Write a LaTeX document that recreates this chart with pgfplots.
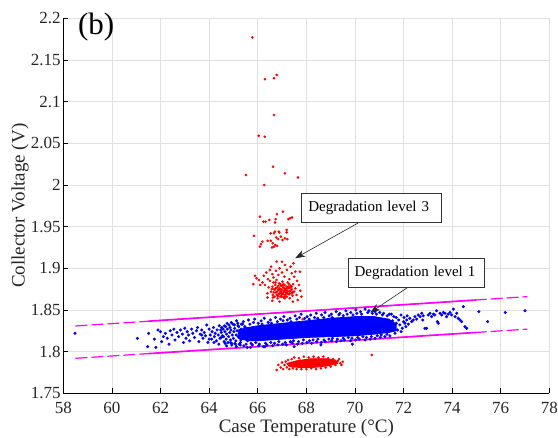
\documentclass[border=0pt]{standalone}
\usepackage{pgfplots}
\pgfplotsset{compat=1.18}
\usepackage{fontspec}
\setmainfont{Liberation Serif}
\usetikzlibrary{arrows.meta}
\definecolor{mag}{RGB}{255,0,255}
\definecolor{tickgray}{RGB}{38,38,38}
\begin{document}
\begin{tikzpicture}
\begin{axis}[
  scale only axis, width=486pt, height=375pt,
  xmin=58, xmax=78, ymin=1.75, ymax=2.2,
  xtick={58,60,62,64,66,68,70,72,74,76,78},
  ytick={1.75,1.8,1.85,1.9,1.95,2,2.05,2.1,2.15,2.2},
  tick label style={font=\fontsize{17}{20}\selectfont, text=tickgray},
  yticklabel style={/pgf/number format/fixed,/pgf/number format/precision=2, inner xsep=2.5pt},
  xticklabel style={anchor=base, yshift=-20.5pt},
  /pgf/number format/assume math mode=true,
  axis x line*=bottom, axis y line*=left,
  axis line style={-, black, line width=0.7pt},
  grid=major, major grid style={black!12, line width=0.6pt},
  tick align=inside, major tick length=5pt,
  tick style={black, line width=0.7pt},
  label style={font=\fontsize{19}{22}\selectfont, text=tickgray},
  xlabel={Case Temperature (°C)},
  ylabel={Collector Voltage (V)},
  xlabel style={at={(axis description cs:0.5,0)}, anchor=center, yshift=-35pt},
  ylabel style={at={(axis description cs:-0.089,0.5)}, anchor=center},
  clip=false,
]
% bounds lines
\addplot[mag, line width=1.2pt, dash pattern=on 12pt off 4pt] coordinates {(58.5,1.8308) (77.1,1.866)};
\addplot[mag, line width=1.2pt, dash pattern=on 12pt off 4pt] coordinates {(58.5,1.792) (77.1,1.827)};
\addplot[mag, line width=1.6pt] coordinates {(61.5,1.8365) (75.0,1.8620)};
\addplot[mag, line width=1.6pt] coordinates {(61.5,1.7976) (75.0,1.8230)};
% blue dense core
\addplot[fill=blue, draw=blue, line width=0.8pt] coordinates {
(65.2,1.826) (65.6,1.829) (66,1.831) (67,1.834) (68,1.837) (69,1.840) (70,1.842) (70.8,1.842) (71.4,1.839) (71.7,1.833)
(71.7,1.825) (71.4,1.823) (70.8,1.821) (70,1.819) (69,1.818) (68,1.817) (67,1.815) (66,1.813) (65.6,1.813) (65.2,1.816)} -- cycle;
% blue points
\addplot[only marks, blue, mark=*, mark size=1.35pt] coordinates {
(58.48,1.822) (61.05,1.816) (61.47,1.806) (61.51,1.822) (61.81,1.805) (61.75,1.815) (61.9,1.826) (62.0,1.824) (62.05,1.812) (62.12,1.818)
(62.2,1.822) (62.28,1.816) (62.35,1.809) (62.4,1.825) (62.47,1.820) (62.55,1.827) (62.6,1.814) (62.68,1.823) (62.75,1.818) (62.82,1.826)
(62.9,1.821) (62.95,1.811) (63.0,1.828) (63.05,1.816) (63.1,1.824) (63.15,1.820) (63.2,1.813) (63.28,1.827) (63.33,1.822) (63.4,1.817)
(63.48,1.825) (63.52,1.829) (63.58,1.812) (63.63,1.821) (63.7,1.826) (63.75,1.816) (63.8,1.823) (63.85,1.819) (63.9,1.832) (63.95,1.811)
(64.0,1.827) (64.05,1.820) (64.1,1.815) (64.12,1.824) (64.18,1.829) (64.22,1.818) (64.25,1.822) (64.3,1.813) (64.33,1.826) (64.38,1.820)
(64.42,1.831) (64.45,1.816) (64.5,1.823) (64.55,1.819) (64.58,1.827) (64.2,1.811) (64.4,1.809) (64.0,1.815) (63.7,1.820) (64.48,1.826)
(64.6,1.818) (64.65,1.824) (64.7,1.815) (64.72,1.821) (64.75,1.827) (64.8,1.818) (64.85,1.823) (64.88,1.814) (64.9,1.826) (64.95,1.820)
(65.0,1.816) (65.02,1.824) (65.05,1.828) (65.1,1.813) (65.12,1.820) (65.15,1.825) (65.2,1.818) (65.22,1.830) (65.25,1.822) (65.3,1.814)
(65.32,1.827) (65.35,1.819) (65.4,1.824) (65.45,1.816) (65.48,1.829) (65.5,1.821) (65.55,1.826) (65.58,1.813) (64.5,1.817) (64.52,1.829)
(64.62,1.812) (64.68,1.830) (64.78,1.811) (64.82,1.832) (64.92,1.810) (64.98,1.833) (65.08,1.809) (65.18,1.834) (65.28,1.808) (65.38,1.833)
(64.63,1.831) (64.74,1.834) (64.86,1.829) (64.91,1.835) (65.04,1.832) (65.13,1.837) (65.19,1.831) (65.33,1.833) (65.41,1.836) (65.47,1.830)
(65.62,1.838) (65.68,1.833) (65.83,1.835) (65.87,1.839) (66.02,1.834) (66.14,1.837) (66.18,1.833) (66.27,1.840) (66.43,1.835) (66.52,1.838)
(66.57,1.834) (66.73,1.841) (66.81,1.836) (66.93,1.839) (67.04,1.837) (67.08,1.842) (67.22,1.838) (67.33,1.840) (67.37,1.836) (67.54,1.843)
(67.61,1.839) (67.72,1.841) (67.79,1.845) (67.93,1.840) (68.03,1.842) (68.12,1.839) (68.18,1.844) (68.34,1.841) (68.41,1.846) (68.47,1.840)
(68.63,1.844) (68.72,1.841) (68.77,1.847) (68.94,1.843) (69.03,1.845) (69.07,1.841) (69.23,1.848) (69.34,1.844) (69.38,1.846) (69.52,1.843)
(69.63,1.849) (69.68,1.845) (69.83,1.847) (69.92,1.844) (70.04,1.850) (70.08,1.846) (70.23,1.848) (70.28,1.845) (70.42,1.851) (70.53,1.847)
(70.58,1.849) (70.72,1.846) (70.83,1.848) (70.88,1.845) (71.02,1.847) (71.13,1.844) (71.18,1.846) (71.33,1.843) (71.42,1.845)
(64.66,1.810) (64.72,1.807) (64.88,1.811) (64.93,1.808) (65.06,1.810) (65.12,1.806) (65.24,1.809) (65.29,1.811) (65.43,1.807) (65.52,1.809)
(65.57,1.805) (65.73,1.810) (65.78,1.808) (65.92,1.811) (66.04,1.807) (66.07,1.809) (66.23,1.806) (66.32,1.810) (66.38,1.808) (66.54,1.811)
(66.62,1.807) (66.69,1.810) (66.83,1.808) (66.87,1.812) (67.03,1.809) (67.13,1.811) (67.18,1.808) (67.34,1.812) (67.42,1.810) (67.47,1.813)
(67.63,1.809) (67.68,1.812) (67.84,1.810) (67.88,1.814) (68.03,1.811) (68.13,1.813) (68.22,1.810) (68.28,1.814) (68.43,1.812) (68.48,1.815)
(68.62,1.811) (68.73,1.814) (68.78,1.812) (68.93,1.815) (69.04,1.813) (69.08,1.816) (69.24,1.812) (69.28,1.815) (69.43,1.813) (69.52,1.816)
(69.57,1.814) (69.73,1.817) (69.82,1.813) (69.88,1.816) (70.03,1.814) (70.12,1.817) (70.18,1.815) (70.33,1.818) (70.42,1.814) (70.48,1.817)
(70.63,1.815) (70.68,1.818) (70.83,1.816) (70.92,1.819) (71.04,1.817) (71.08,1.820) (71.23,1.818) (71.32,1.821) (71.44,1.819)
(65.7,1.805) (67.5,1.806) (69.9,1.809) (66.3,1.806) (68.6,1.808)
(71.5,1.845) (71.6,1.829) (71.7,1.841) (71.75,1.826) (71.8,1.838) (71.85,1.832) (71.9,1.844) (71.95,1.828) (72.0,1.836) (72.02,1.841)
(72.1,1.830) (72.15,1.843) (72.2,1.833) (71.55,1.837) (71.65,1.822) (71.9,1.824) (71.7,1.834) (71.6,1.842)
(72.06,1.834) (72.13,1.838) (72.26,1.840) (72.33,1.836) (72.40,1.838) (72.47,1.842) (72.54,1.839) (72.61,1.844) (72.68,1.842) (72.75,1.846)
(72.79,1.838) (72.81,1.843) (72.88,1.828) (72.95,1.828) (73.02,1.844) (73.09,1.846) (73.16,1.842) (73.23,1.845) (73.29,1.844) (73.36,1.849)
(73.39,1.836) (73.43,1.834) (73.50,1.846) (73.57,1.844) (73.64,1.847) (73.71,1.846) (73.77,1.842) (73.84,1.845) (73.91,1.847) (73.98,1.844)
(74.05,1.851) (74.12,1.842) (74.19,1.846) (74.25,1.840) (74.32,1.838) (74.39,1.836) (74.46,1.854) (74.53,1.830) (74.60,1.828) (75.10,1.848)
(75.46,1.836) (76.19,1.847) (77.0,1.849)
};
% red points
\addplot[only marks, red, mark=*, mark size=1.1pt] coordinates {
(65.78,2.177) (66.30,2.127) (66.67,2.128) (66.78,2.132) (66.67,2.084) (66.04,2.059) (66.29,2.058) (66.63,2.022) (67.12,2.014) (65.52,2.012)
(67.66,2.009) (66.27,2.000)
(66.09,1.962) (66.23,1.956) (66.33,1.956) (66.48,1.958) (66.79,1.965) (67.04,1.968) (66.74,1.959) (66.71,1.955) (67.26,1.959) (67.33,1.960) (67.41,1.961)
(65.85,1.939) (66.09,1.926) (66.13,1.929) (66.19,1.932) (66.41,1.933) (66.54,1.933) (66.59,1.925) (66.67,1.926) (66.71,1.944) (66.87,1.944)
(67.19,1.943) (67.22,1.935) (67.12,1.936) (67.19,1.946) (66.53,1.942) (66.67,1.942) (66.89,1.943) (66.76,1.937) (66.84,1.935) (66.95,1.938)
(67.02,1.934) (66.72,1.928) (66.80,1.927) (66.62,1.930)
(66.55,1.872) (66.6,1.878) (66.62,1.868) (66.65,1.883) (66.68,1.875) (66.7,1.866) (66.72,1.880) (66.75,1.871) (66.77,1.886) (66.8,1.877)
(66.82,1.864) (66.84,1.874) (66.86,1.869) (66.88,1.882) (66.9,1.876) (66.92,1.866) (66.94,1.872) (66.96,1.879) (66.98,1.868) (67.0,1.874)
(67.02,1.884) (67.03,1.870) (67.05,1.877) (67.07,1.865) (67.08,1.872) (67.1,1.880) (67.12,1.868) (67.14,1.875) (67.16,1.871) (67.18,1.878)
(67.2,1.866) (67.22,1.873) (67.24,1.883) (67.26,1.869) (67.28,1.876) (67.3,1.872) (67.32,1.864) (67.35,1.879) (67.38,1.870) (67.4,1.875)
(67.43,1.867) (67.46,1.881) (67.5,1.872) (67.55,1.876) (67.6,1.868) (66.66,1.871) (66.74,1.876) (66.85,1.879) (66.95,1.875) (67.05,1.869)
(67.15,1.874) (67.25,1.878) (67.35,1.873) (66.8,1.872) (66.9,1.870) (67.0,1.879) (67.1,1.873) (67.2,1.876) (67.3,1.869) (66.98,1.866)
(67.12,1.864) (66.7,1.874) (67.4,1.878) (66.88,1.874) (67.08,1.876) (67.18,1.870) (66.78,1.868) (66.93,1.881) (67.28,1.881) (67.45,1.872)
(66.58,1.875) (66.63,1.865) (66.73,1.883) (66.83,1.867) (66.97,1.871) (67.06,1.881) (67.13,1.866) (67.23,1.870) (67.33,1.877) (67.42,1.870)
(66.5,1.885) (66.45,1.877) (66.4,1.870) (66.42,1.887) (66.3,1.880) (66.2,1.883) (66.1,1.880) (65.95,1.888) (66.05,1.886) (66.25,1.891)
(66.35,1.895) (66.5,1.898) (66.6,1.893) (66.65,1.889) (66.55,1.902) (66.75,1.897) (66.85,1.892) (66.9,1.900) (67.0,1.895) (67.0,1.908)
(67.1,1.890) (67.2,1.898) (67.3,1.887) (67.35,1.902) (67.4,1.894) (67.5,1.890) (67.55,1.896) (67.62,1.885) (67.7,1.880) (67.75,1.873)
(67.8,1.866) (67.65,1.862) (66.6,1.861) (66.9,1.860) (67.45,1.860) (66.4,1.865) (67.47,1.906) (66.78,1.908) (67.12,1.904) (67.74,1.896)
(65.89,1.891) (65.82,1.881)
(66.78,1.778) (66.85,1.784) (66.95,1.781) (67.0,1.787) (67.05,1.779) (67.1,1.784) (67.15,1.788) (67.2,1.781) (67.25,1.790) (67.3,1.779)
(67.4,1.791) (67.45,1.780) (67.5,1.793) (67.6,1.779) (67.7,1.792) (67.8,1.779) (67.9,1.794) (68.0,1.779) (68.1,1.793) (68.2,1.780)
(68.3,1.794) (68.4,1.779) (68.5,1.793) (68.6,1.780) (68.7,1.794) (68.8,1.781) (68.9,1.792) (69.0,1.782) (69.1,1.791) (69.2,1.784)
(69.3,1.789) (69.4,1.786) (69.5,1.788) (69.45,1.784) (69.35,1.791) (67.35,1.785) (67.65,1.786) (67.95,1.787) (68.25,1.786) (68.55,1.787)
(68.85,1.786) (69.1,1.787) (67.55,1.783) (68.05,1.783) (68.65,1.783) (67.75,1.789) (68.45,1.789) (69.0,1.789)
(70.69,1.796) (67.85,1.839)
};
% red dense core (lower cluster)
\addplot[fill=red, draw=red, line width=0.8pt] coordinates {
(67.2,1.786) (67.6,1.789) (68.2,1.7915) (68.8,1.7915) (69.2,1.790) (69.3,1.786) (68.9,1.783) (68.3,1.781) (67.7,1.781) (67.3,1.782)} -- cycle;
% annotations
\node[anchor=north west, inner sep=0pt, font=\fontsize{31}{33}\selectfont] at (rel axis cs:0.03,1.015) {(b)};
\draw[black!85, line width=0.6pt, -{Stealth[length=10pt,width=7pt,inset=3pt]}] (axis cs:70.23,1.956) -- (axis cs:67.54,1.912);
\draw[black!85, line width=0.6pt, -{Stealth[length=10pt,width=7pt,inset=3pt]}] (axis cs:72.20,1.8776) -- (axis cs:70.63,1.8468);
\node[anchor=north west, draw=black!80, line width=0.8pt, fill=white, inner xsep=7pt, inner ysep=0pt,
  minimum width=140pt, minimum height=29pt, text width=126pt, align=left,
  font=\fontsize{15}{18}\selectfont] at (axis cs:67.78,1.9908) {Degradation level 3};
\node[anchor=north west, draw=black!80, line width=0.8pt, fill=white, inner xsep=6.6pt, inner ysep=0pt,
  minimum width=136.6pt, minimum height=28.7pt, text width=123.4pt, align=left,
  font=\fontsize{15}{18}\selectfont] at (axis cs:69.70,1.912) {Degradation level 1};
\end{axis}
\pgfresetboundingbox
\path[use as bounding box] ([shift={(-63.3pt,-43.7pt)}]current axis.south west) rectangle ([shift={(8.7pt,18.3pt)}]current axis.north east);
\end{tikzpicture}
\end{document}
